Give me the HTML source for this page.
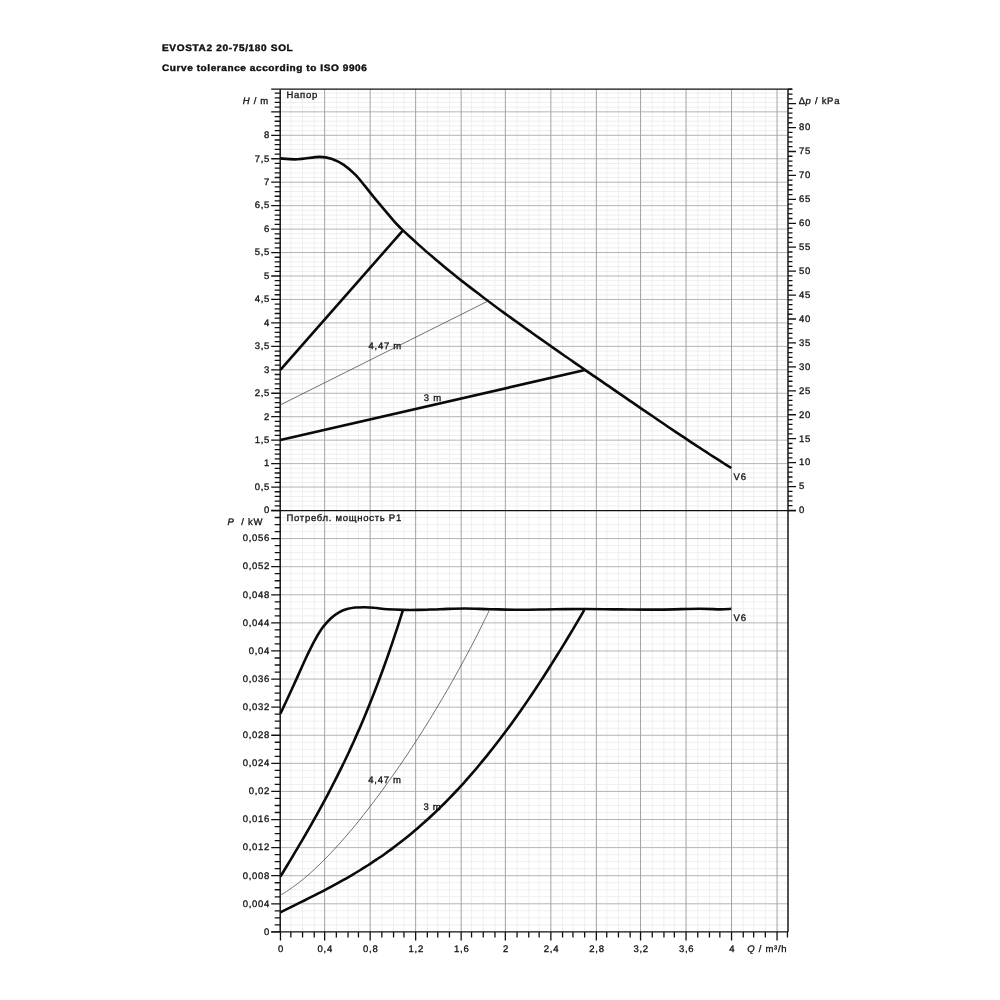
<!DOCTYPE html>
<html><head><meta charset="utf-8"><title>EVOSTA2 20-75/180 SOL</title>
<style>
html,body{margin:0;padding:0;background:#fff;}
body{width:1000px;height:1000px;overflow:hidden;font-family:"Liberation Sans",sans-serif;}
svg{display:block;position:absolute;left:0;top:0}
svg text{font-family:"Liberation Sans",sans-serif;font-size:9.5px;letter-spacing:0.72px;fill:#111;text-rendering:geometricPrecision;}
svg text{stroke:#111;stroke-width:0.3px;paint-order:stroke;}
svg .v{font-style:italic;}
.hd{position:absolute;left:161.5px;font-weight:bold;font-size:9.4px;letter-spacing:0.62px;transform:scaleX(1.07);transform-origin:0 0;color:#111;white-space:nowrap;line-height:12px;text-rendering:geometricPrecision;-webkit-text-stroke:0.4px #111;filter:blur(0.45px);}
</style></head><body>
<div class="hd" id="h1" style="top:42px;">EVOSTA2 20-75/180 SOL</div>
<div class="hd" id="h2" style="top:62.3px;letter-spacing:0.54px;">Curve tolerance according to ISO 9906</div>
<svg width="1000" height="1000" viewBox="0 0 1000 1000" style="filter:blur(0.45px)">
<line x1="290.85" y1="89.2" x2="290.85" y2="510.5" stroke="#efefef" stroke-width="1"/>
<line x1="302.55" y1="89.2" x2="302.55" y2="510.5" stroke="#efefef" stroke-width="1"/>
<line x1="314.25" y1="89.2" x2="314.25" y2="510.5" stroke="#efefef" stroke-width="1"/>
<line x1="336.35" y1="89.2" x2="336.35" y2="510.5" stroke="#efefef" stroke-width="1"/>
<line x1="348.05" y1="89.2" x2="348.05" y2="510.5" stroke="#efefef" stroke-width="1"/>
<line x1="358.45" y1="89.2" x2="358.45" y2="510.5" stroke="#efefef" stroke-width="1"/>
<line x1="381.85" y1="89.2" x2="381.85" y2="510.5" stroke="#efefef" stroke-width="1"/>
<line x1="393.55" y1="89.2" x2="393.55" y2="510.5" stroke="#efefef" stroke-width="1"/>
<line x1="403.95" y1="89.2" x2="403.95" y2="510.5" stroke="#efefef" stroke-width="1"/>
<line x1="427.35" y1="89.2" x2="427.35" y2="510.5" stroke="#efefef" stroke-width="1"/>
<line x1="437.75" y1="89.2" x2="437.75" y2="510.5" stroke="#efefef" stroke-width="1"/>
<line x1="449.45" y1="89.2" x2="449.45" y2="510.5" stroke="#efefef" stroke-width="1"/>
<line x1="471.55" y1="89.2" x2="471.55" y2="510.5" stroke="#efefef" stroke-width="1"/>
<line x1="483.25" y1="89.2" x2="483.25" y2="510.5" stroke="#efefef" stroke-width="1"/>
<line x1="494.95" y1="89.2" x2="494.95" y2="510.5" stroke="#efefef" stroke-width="1"/>
<line x1="517.05" y1="89.2" x2="517.05" y2="510.5" stroke="#efefef" stroke-width="1"/>
<line x1="528.75" y1="89.2" x2="528.75" y2="510.5" stroke="#efefef" stroke-width="1"/>
<line x1="539.15" y1="89.2" x2="539.15" y2="510.5" stroke="#efefef" stroke-width="1"/>
<line x1="562.55" y1="89.2" x2="562.55" y2="510.5" stroke="#efefef" stroke-width="1"/>
<line x1="572.95" y1="89.2" x2="572.95" y2="510.5" stroke="#efefef" stroke-width="1"/>
<line x1="584.65" y1="89.2" x2="584.65" y2="510.5" stroke="#efefef" stroke-width="1"/>
<line x1="606.75" y1="89.2" x2="606.75" y2="510.5" stroke="#efefef" stroke-width="1"/>
<line x1="618.45" y1="89.2" x2="618.45" y2="510.5" stroke="#efefef" stroke-width="1"/>
<line x1="630.15" y1="89.2" x2="630.15" y2="510.5" stroke="#efefef" stroke-width="1"/>
<line x1="652.25" y1="89.2" x2="652.25" y2="510.5" stroke="#efefef" stroke-width="1"/>
<line x1="663.95" y1="89.2" x2="663.95" y2="510.5" stroke="#efefef" stroke-width="1"/>
<line x1="674.35" y1="89.2" x2="674.35" y2="510.5" stroke="#efefef" stroke-width="1"/>
<line x1="697.75" y1="89.2" x2="697.75" y2="510.5" stroke="#efefef" stroke-width="1"/>
<line x1="709.45" y1="89.2" x2="709.45" y2="510.5" stroke="#efefef" stroke-width="1"/>
<line x1="719.85" y1="89.2" x2="719.85" y2="510.5" stroke="#efefef" stroke-width="1"/>
<line x1="743.25" y1="89.2" x2="743.25" y2="510.5" stroke="#efefef" stroke-width="1"/>
<line x1="753.65" y1="89.2" x2="753.65" y2="510.5" stroke="#efefef" stroke-width="1"/>
<line x1="765.35" y1="89.2" x2="765.35" y2="510.5" stroke="#efefef" stroke-width="1"/>
<line x1="280.2" y1="505.81" x2="788.0" y2="505.81" stroke="#efefef" stroke-width="1"/>
<line x1="280.2" y1="501.12" x2="788.0" y2="501.12" stroke="#efefef" stroke-width="1"/>
<line x1="280.2" y1="496.43" x2="788.0" y2="496.43" stroke="#efefef" stroke-width="1"/>
<line x1="280.2" y1="491.74" x2="788.0" y2="491.74" stroke="#efefef" stroke-width="1"/>
<line x1="280.2" y1="482.36" x2="788.0" y2="482.36" stroke="#efefef" stroke-width="1"/>
<line x1="280.2" y1="477.67" x2="788.0" y2="477.67" stroke="#efefef" stroke-width="1"/>
<line x1="280.2" y1="472.98" x2="788.0" y2="472.98" stroke="#efefef" stroke-width="1"/>
<line x1="280.2" y1="468.29" x2="788.0" y2="468.29" stroke="#efefef" stroke-width="1"/>
<line x1="280.2" y1="458.91" x2="788.0" y2="458.91" stroke="#efefef" stroke-width="1"/>
<line x1="280.2" y1="454.22" x2="788.0" y2="454.22" stroke="#efefef" stroke-width="1"/>
<line x1="280.2" y1="449.53" x2="788.0" y2="449.53" stroke="#efefef" stroke-width="1"/>
<line x1="280.2" y1="444.84" x2="788.0" y2="444.84" stroke="#efefef" stroke-width="1"/>
<line x1="280.2" y1="435.46" x2="788.0" y2="435.46" stroke="#efefef" stroke-width="1"/>
<line x1="280.2" y1="430.77" x2="788.0" y2="430.77" stroke="#efefef" stroke-width="1"/>
<line x1="280.2" y1="426.08" x2="788.0" y2="426.08" stroke="#efefef" stroke-width="1"/>
<line x1="280.2" y1="421.39" x2="788.0" y2="421.39" stroke="#efefef" stroke-width="1"/>
<line x1="280.2" y1="412.01" x2="788.0" y2="412.01" stroke="#efefef" stroke-width="1"/>
<line x1="280.2" y1="407.32" x2="788.0" y2="407.32" stroke="#efefef" stroke-width="1"/>
<line x1="280.2" y1="402.63" x2="788.0" y2="402.63" stroke="#efefef" stroke-width="1"/>
<line x1="280.2" y1="397.94" x2="788.0" y2="397.94" stroke="#efefef" stroke-width="1"/>
<line x1="280.2" y1="388.56" x2="788.0" y2="388.56" stroke="#efefef" stroke-width="1"/>
<line x1="280.2" y1="383.87" x2="788.0" y2="383.87" stroke="#efefef" stroke-width="1"/>
<line x1="280.2" y1="379.18" x2="788.0" y2="379.18" stroke="#efefef" stroke-width="1"/>
<line x1="280.2" y1="374.49" x2="788.0" y2="374.49" stroke="#efefef" stroke-width="1"/>
<line x1="280.2" y1="365.11" x2="788.0" y2="365.11" stroke="#efefef" stroke-width="1"/>
<line x1="280.2" y1="360.42" x2="788.0" y2="360.42" stroke="#efefef" stroke-width="1"/>
<line x1="280.2" y1="355.73" x2="788.0" y2="355.73" stroke="#efefef" stroke-width="1"/>
<line x1="280.2" y1="351.04" x2="788.0" y2="351.04" stroke="#efefef" stroke-width="1"/>
<line x1="280.2" y1="341.66" x2="788.0" y2="341.66" stroke="#efefef" stroke-width="1"/>
<line x1="280.2" y1="336.97" x2="788.0" y2="336.97" stroke="#efefef" stroke-width="1"/>
<line x1="280.2" y1="332.28" x2="788.0" y2="332.28" stroke="#efefef" stroke-width="1"/>
<line x1="280.2" y1="327.59" x2="788.0" y2="327.59" stroke="#efefef" stroke-width="1"/>
<line x1="280.2" y1="318.21" x2="788.0" y2="318.21" stroke="#efefef" stroke-width="1"/>
<line x1="280.2" y1="313.52" x2="788.0" y2="313.52" stroke="#efefef" stroke-width="1"/>
<line x1="280.2" y1="308.83" x2="788.0" y2="308.83" stroke="#efefef" stroke-width="1"/>
<line x1="280.2" y1="304.14" x2="788.0" y2="304.14" stroke="#efefef" stroke-width="1"/>
<line x1="280.2" y1="294.76" x2="788.0" y2="294.76" stroke="#efefef" stroke-width="1"/>
<line x1="280.2" y1="290.07" x2="788.0" y2="290.07" stroke="#efefef" stroke-width="1"/>
<line x1="280.2" y1="285.38" x2="788.0" y2="285.38" stroke="#efefef" stroke-width="1"/>
<line x1="280.2" y1="280.69" x2="788.0" y2="280.69" stroke="#efefef" stroke-width="1"/>
<line x1="280.2" y1="271.31" x2="788.0" y2="271.31" stroke="#efefef" stroke-width="1"/>
<line x1="280.2" y1="266.62" x2="788.0" y2="266.62" stroke="#efefef" stroke-width="1"/>
<line x1="280.2" y1="261.93" x2="788.0" y2="261.93" stroke="#efefef" stroke-width="1"/>
<line x1="280.2" y1="257.24" x2="788.0" y2="257.24" stroke="#efefef" stroke-width="1"/>
<line x1="280.2" y1="247.86" x2="788.0" y2="247.86" stroke="#efefef" stroke-width="1"/>
<line x1="280.2" y1="243.17" x2="788.0" y2="243.17" stroke="#efefef" stroke-width="1"/>
<line x1="280.2" y1="238.48" x2="788.0" y2="238.48" stroke="#efefef" stroke-width="1"/>
<line x1="280.2" y1="233.79" x2="788.0" y2="233.79" stroke="#efefef" stroke-width="1"/>
<line x1="280.2" y1="224.41" x2="788.0" y2="224.41" stroke="#efefef" stroke-width="1"/>
<line x1="280.2" y1="219.72" x2="788.0" y2="219.72" stroke="#efefef" stroke-width="1"/>
<line x1="280.2" y1="215.03" x2="788.0" y2="215.03" stroke="#efefef" stroke-width="1"/>
<line x1="280.2" y1="210.34" x2="788.0" y2="210.34" stroke="#efefef" stroke-width="1"/>
<line x1="280.2" y1="200.96" x2="788.0" y2="200.96" stroke="#efefef" stroke-width="1"/>
<line x1="280.2" y1="196.27" x2="788.0" y2="196.27" stroke="#efefef" stroke-width="1"/>
<line x1="280.2" y1="191.58" x2="788.0" y2="191.58" stroke="#efefef" stroke-width="1"/>
<line x1="280.2" y1="186.89" x2="788.0" y2="186.89" stroke="#efefef" stroke-width="1"/>
<line x1="280.2" y1="177.51" x2="788.0" y2="177.51" stroke="#efefef" stroke-width="1"/>
<line x1="280.2" y1="172.82" x2="788.0" y2="172.82" stroke="#efefef" stroke-width="1"/>
<line x1="280.2" y1="168.13" x2="788.0" y2="168.13" stroke="#efefef" stroke-width="1"/>
<line x1="280.2" y1="163.44" x2="788.0" y2="163.44" stroke="#efefef" stroke-width="1"/>
<line x1="280.2" y1="154.06" x2="788.0" y2="154.06" stroke="#efefef" stroke-width="1"/>
<line x1="280.2" y1="149.37" x2="788.0" y2="149.37" stroke="#efefef" stroke-width="1"/>
<line x1="280.2" y1="144.68" x2="788.0" y2="144.68" stroke="#efefef" stroke-width="1"/>
<line x1="280.2" y1="139.99" x2="788.0" y2="139.99" stroke="#efefef" stroke-width="1"/>
<line x1="280.2" y1="130.61" x2="788.0" y2="130.61" stroke="#efefef" stroke-width="1"/>
<line x1="280.2" y1="125.92" x2="788.0" y2="125.92" stroke="#efefef" stroke-width="1"/>
<line x1="280.2" y1="121.23" x2="788.0" y2="121.23" stroke="#efefef" stroke-width="1"/>
<line x1="280.2" y1="116.54" x2="788.0" y2="116.54" stroke="#efefef" stroke-width="1"/>
<line x1="280.2" y1="107.16" x2="788.0" y2="107.16" stroke="#efefef" stroke-width="1"/>
<line x1="280.2" y1="102.47" x2="788.0" y2="102.47" stroke="#efefef" stroke-width="1"/>
<line x1="280.2" y1="97.78" x2="788.0" y2="97.78" stroke="#efefef" stroke-width="1"/>
<line x1="280.2" y1="93.09" x2="788.0" y2="93.09" stroke="#efefef" stroke-width="1"/>
<line x1="280.2" y1="487.05" x2="788.0" y2="487.05" stroke="#b4b4b4" stroke-width="1"/>
<line x1="280.2" y1="463.60" x2="788.0" y2="463.60" stroke="#b4b4b4" stroke-width="1"/>
<line x1="280.2" y1="440.15" x2="788.0" y2="440.15" stroke="#b4b4b4" stroke-width="1"/>
<line x1="280.2" y1="416.70" x2="788.0" y2="416.70" stroke="#b4b4b4" stroke-width="1"/>
<line x1="280.2" y1="393.25" x2="788.0" y2="393.25" stroke="#b4b4b4" stroke-width="1"/>
<line x1="280.2" y1="369.80" x2="788.0" y2="369.80" stroke="#b4b4b4" stroke-width="1"/>
<line x1="280.2" y1="346.35" x2="788.0" y2="346.35" stroke="#b4b4b4" stroke-width="1"/>
<line x1="280.2" y1="322.90" x2="788.0" y2="322.90" stroke="#b4b4b4" stroke-width="1"/>
<line x1="280.2" y1="299.45" x2="788.0" y2="299.45" stroke="#b4b4b4" stroke-width="1"/>
<line x1="280.2" y1="276.00" x2="788.0" y2="276.00" stroke="#b4b4b4" stroke-width="1"/>
<line x1="280.2" y1="252.55" x2="788.0" y2="252.55" stroke="#b4b4b4" stroke-width="1"/>
<line x1="280.2" y1="229.10" x2="788.0" y2="229.10" stroke="#b4b4b4" stroke-width="1"/>
<line x1="280.2" y1="205.65" x2="788.0" y2="205.65" stroke="#b4b4b4" stroke-width="1"/>
<line x1="280.2" y1="182.20" x2="788.0" y2="182.20" stroke="#b4b4b4" stroke-width="1"/>
<line x1="280.2" y1="158.75" x2="788.0" y2="158.75" stroke="#b4b4b4" stroke-width="1"/>
<line x1="280.2" y1="135.30" x2="788.0" y2="135.30" stroke="#b4b4b4" stroke-width="1"/>
<line x1="280.2" y1="111.85" x2="788.0" y2="111.85" stroke="#b4b4b4" stroke-width="1"/>
<line x1="324.65" y1="89.2" x2="324.65" y2="510.5" stroke="#a2a2a2" stroke-width="1"/>
<line x1="370.15" y1="89.2" x2="370.15" y2="510.5" stroke="#a2a2a2" stroke-width="1"/>
<line x1="415.65" y1="89.2" x2="415.65" y2="510.5" stroke="#a2a2a2" stroke-width="1"/>
<line x1="461.15" y1="89.2" x2="461.15" y2="510.5" stroke="#a2a2a2" stroke-width="1"/>
<line x1="505.35" y1="89.2" x2="505.35" y2="510.5" stroke="#a2a2a2" stroke-width="1"/>
<line x1="550.85" y1="89.2" x2="550.85" y2="510.5" stroke="#a2a2a2" stroke-width="1"/>
<line x1="596.35" y1="89.2" x2="596.35" y2="510.5" stroke="#a2a2a2" stroke-width="1"/>
<line x1="640.55" y1="89.2" x2="640.55" y2="510.5" stroke="#a2a2a2" stroke-width="1"/>
<line x1="686.05" y1="89.2" x2="686.05" y2="510.5" stroke="#a2a2a2" stroke-width="1"/>
<line x1="731.55" y1="89.2" x2="731.55" y2="510.5" stroke="#a2a2a2" stroke-width="1"/>
<line x1="777.05" y1="89.2" x2="777.05" y2="510.5" stroke="#a2a2a2" stroke-width="1"/>
<line x1="290.85" y1="510.5" x2="290.85" y2="931.9" stroke="#efefef" stroke-width="1"/>
<line x1="302.55" y1="510.5" x2="302.55" y2="931.9" stroke="#efefef" stroke-width="1"/>
<line x1="314.25" y1="510.5" x2="314.25" y2="931.9" stroke="#efefef" stroke-width="1"/>
<line x1="336.35" y1="510.5" x2="336.35" y2="931.9" stroke="#efefef" stroke-width="1"/>
<line x1="348.05" y1="510.5" x2="348.05" y2="931.9" stroke="#efefef" stroke-width="1"/>
<line x1="358.45" y1="510.5" x2="358.45" y2="931.9" stroke="#efefef" stroke-width="1"/>
<line x1="381.85" y1="510.5" x2="381.85" y2="931.9" stroke="#efefef" stroke-width="1"/>
<line x1="393.55" y1="510.5" x2="393.55" y2="931.9" stroke="#efefef" stroke-width="1"/>
<line x1="403.95" y1="510.5" x2="403.95" y2="931.9" stroke="#efefef" stroke-width="1"/>
<line x1="427.35" y1="510.5" x2="427.35" y2="931.9" stroke="#efefef" stroke-width="1"/>
<line x1="437.75" y1="510.5" x2="437.75" y2="931.9" stroke="#efefef" stroke-width="1"/>
<line x1="449.45" y1="510.5" x2="449.45" y2="931.9" stroke="#efefef" stroke-width="1"/>
<line x1="471.55" y1="510.5" x2="471.55" y2="931.9" stroke="#efefef" stroke-width="1"/>
<line x1="483.25" y1="510.5" x2="483.25" y2="931.9" stroke="#efefef" stroke-width="1"/>
<line x1="494.95" y1="510.5" x2="494.95" y2="931.9" stroke="#efefef" stroke-width="1"/>
<line x1="517.05" y1="510.5" x2="517.05" y2="931.9" stroke="#efefef" stroke-width="1"/>
<line x1="528.75" y1="510.5" x2="528.75" y2="931.9" stroke="#efefef" stroke-width="1"/>
<line x1="539.15" y1="510.5" x2="539.15" y2="931.9" stroke="#efefef" stroke-width="1"/>
<line x1="562.55" y1="510.5" x2="562.55" y2="931.9" stroke="#efefef" stroke-width="1"/>
<line x1="572.95" y1="510.5" x2="572.95" y2="931.9" stroke="#efefef" stroke-width="1"/>
<line x1="584.65" y1="510.5" x2="584.65" y2="931.9" stroke="#efefef" stroke-width="1"/>
<line x1="606.75" y1="510.5" x2="606.75" y2="931.9" stroke="#efefef" stroke-width="1"/>
<line x1="618.45" y1="510.5" x2="618.45" y2="931.9" stroke="#efefef" stroke-width="1"/>
<line x1="630.15" y1="510.5" x2="630.15" y2="931.9" stroke="#efefef" stroke-width="1"/>
<line x1="652.25" y1="510.5" x2="652.25" y2="931.9" stroke="#efefef" stroke-width="1"/>
<line x1="663.95" y1="510.5" x2="663.95" y2="931.9" stroke="#efefef" stroke-width="1"/>
<line x1="674.35" y1="510.5" x2="674.35" y2="931.9" stroke="#efefef" stroke-width="1"/>
<line x1="697.75" y1="510.5" x2="697.75" y2="931.9" stroke="#efefef" stroke-width="1"/>
<line x1="709.45" y1="510.5" x2="709.45" y2="931.9" stroke="#efefef" stroke-width="1"/>
<line x1="719.85" y1="510.5" x2="719.85" y2="931.9" stroke="#efefef" stroke-width="1"/>
<line x1="743.25" y1="510.5" x2="743.25" y2="931.9" stroke="#efefef" stroke-width="1"/>
<line x1="753.65" y1="510.5" x2="753.65" y2="931.9" stroke="#efefef" stroke-width="1"/>
<line x1="765.35" y1="510.5" x2="765.35" y2="931.9" stroke="#efefef" stroke-width="1"/>
<line x1="280.2" y1="924.88" x2="788.0" y2="924.88" stroke="#efefef" stroke-width="1"/>
<line x1="280.2" y1="917.85" x2="788.0" y2="917.85" stroke="#efefef" stroke-width="1"/>
<line x1="280.2" y1="910.83" x2="788.0" y2="910.83" stroke="#efefef" stroke-width="1"/>
<line x1="280.2" y1="896.78" x2="788.0" y2="896.78" stroke="#efefef" stroke-width="1"/>
<line x1="280.2" y1="889.76" x2="788.0" y2="889.76" stroke="#efefef" stroke-width="1"/>
<line x1="280.2" y1="882.74" x2="788.0" y2="882.74" stroke="#efefef" stroke-width="1"/>
<line x1="280.2" y1="868.69" x2="788.0" y2="868.69" stroke="#efefef" stroke-width="1"/>
<line x1="280.2" y1="861.67" x2="788.0" y2="861.67" stroke="#efefef" stroke-width="1"/>
<line x1="280.2" y1="854.64" x2="788.0" y2="854.64" stroke="#efefef" stroke-width="1"/>
<line x1="280.2" y1="840.60" x2="788.0" y2="840.60" stroke="#efefef" stroke-width="1"/>
<line x1="280.2" y1="833.57" x2="788.0" y2="833.57" stroke="#efefef" stroke-width="1"/>
<line x1="280.2" y1="826.55" x2="788.0" y2="826.55" stroke="#efefef" stroke-width="1"/>
<line x1="280.2" y1="812.50" x2="788.0" y2="812.50" stroke="#efefef" stroke-width="1"/>
<line x1="280.2" y1="805.48" x2="788.0" y2="805.48" stroke="#efefef" stroke-width="1"/>
<line x1="280.2" y1="798.46" x2="788.0" y2="798.46" stroke="#efefef" stroke-width="1"/>
<line x1="280.2" y1="784.41" x2="788.0" y2="784.41" stroke="#efefef" stroke-width="1"/>
<line x1="280.2" y1="777.39" x2="788.0" y2="777.39" stroke="#efefef" stroke-width="1"/>
<line x1="280.2" y1="770.36" x2="788.0" y2="770.36" stroke="#efefef" stroke-width="1"/>
<line x1="280.2" y1="756.32" x2="788.0" y2="756.32" stroke="#efefef" stroke-width="1"/>
<line x1="280.2" y1="749.29" x2="788.0" y2="749.29" stroke="#efefef" stroke-width="1"/>
<line x1="280.2" y1="742.27" x2="788.0" y2="742.27" stroke="#efefef" stroke-width="1"/>
<line x1="280.2" y1="728.22" x2="788.0" y2="728.22" stroke="#efefef" stroke-width="1"/>
<line x1="280.2" y1="721.20" x2="788.0" y2="721.20" stroke="#efefef" stroke-width="1"/>
<line x1="280.2" y1="714.18" x2="788.0" y2="714.18" stroke="#efefef" stroke-width="1"/>
<line x1="280.2" y1="700.13" x2="788.0" y2="700.13" stroke="#efefef" stroke-width="1"/>
<line x1="280.2" y1="693.11" x2="788.0" y2="693.11" stroke="#efefef" stroke-width="1"/>
<line x1="280.2" y1="686.08" x2="788.0" y2="686.08" stroke="#efefef" stroke-width="1"/>
<line x1="280.2" y1="672.04" x2="788.0" y2="672.04" stroke="#efefef" stroke-width="1"/>
<line x1="280.2" y1="665.01" x2="788.0" y2="665.01" stroke="#efefef" stroke-width="1"/>
<line x1="280.2" y1="657.99" x2="788.0" y2="657.99" stroke="#efefef" stroke-width="1"/>
<line x1="280.2" y1="643.94" x2="788.0" y2="643.94" stroke="#efefef" stroke-width="1"/>
<line x1="280.2" y1="636.92" x2="788.0" y2="636.92" stroke="#efefef" stroke-width="1"/>
<line x1="280.2" y1="629.90" x2="788.0" y2="629.90" stroke="#efefef" stroke-width="1"/>
<line x1="280.2" y1="615.85" x2="788.0" y2="615.85" stroke="#efefef" stroke-width="1"/>
<line x1="280.2" y1="608.83" x2="788.0" y2="608.83" stroke="#efefef" stroke-width="1"/>
<line x1="280.2" y1="601.80" x2="788.0" y2="601.80" stroke="#efefef" stroke-width="1"/>
<line x1="280.2" y1="587.76" x2="788.0" y2="587.76" stroke="#efefef" stroke-width="1"/>
<line x1="280.2" y1="580.73" x2="788.0" y2="580.73" stroke="#efefef" stroke-width="1"/>
<line x1="280.2" y1="573.71" x2="788.0" y2="573.71" stroke="#efefef" stroke-width="1"/>
<line x1="280.2" y1="559.66" x2="788.0" y2="559.66" stroke="#efefef" stroke-width="1"/>
<line x1="280.2" y1="552.64" x2="788.0" y2="552.64" stroke="#efefef" stroke-width="1"/>
<line x1="280.2" y1="545.62" x2="788.0" y2="545.62" stroke="#efefef" stroke-width="1"/>
<line x1="280.2" y1="531.57" x2="788.0" y2="531.57" stroke="#efefef" stroke-width="1"/>
<line x1="280.2" y1="524.55" x2="788.0" y2="524.55" stroke="#efefef" stroke-width="1"/>
<line x1="280.2" y1="517.52" x2="788.0" y2="517.52" stroke="#efefef" stroke-width="1"/>
<line x1="280.2" y1="903.81" x2="788.0" y2="903.81" stroke="#b4b4b4" stroke-width="1"/>
<line x1="280.2" y1="875.71" x2="788.0" y2="875.71" stroke="#b4b4b4" stroke-width="1"/>
<line x1="280.2" y1="847.62" x2="788.0" y2="847.62" stroke="#b4b4b4" stroke-width="1"/>
<line x1="280.2" y1="819.53" x2="788.0" y2="819.53" stroke="#b4b4b4" stroke-width="1"/>
<line x1="280.2" y1="791.43" x2="788.0" y2="791.43" stroke="#b4b4b4" stroke-width="1"/>
<line x1="280.2" y1="763.34" x2="788.0" y2="763.34" stroke="#b4b4b4" stroke-width="1"/>
<line x1="280.2" y1="735.25" x2="788.0" y2="735.25" stroke="#b4b4b4" stroke-width="1"/>
<line x1="280.2" y1="707.15" x2="788.0" y2="707.15" stroke="#b4b4b4" stroke-width="1"/>
<line x1="280.2" y1="679.06" x2="788.0" y2="679.06" stroke="#b4b4b4" stroke-width="1"/>
<line x1="280.2" y1="650.97" x2="788.0" y2="650.97" stroke="#b4b4b4" stroke-width="1"/>
<line x1="280.2" y1="622.87" x2="788.0" y2="622.87" stroke="#b4b4b4" stroke-width="1"/>
<line x1="280.2" y1="594.78" x2="788.0" y2="594.78" stroke="#b4b4b4" stroke-width="1"/>
<line x1="280.2" y1="566.69" x2="788.0" y2="566.69" stroke="#b4b4b4" stroke-width="1"/>
<line x1="280.2" y1="538.59" x2="788.0" y2="538.59" stroke="#b4b4b4" stroke-width="1"/>
<line x1="324.65" y1="510.5" x2="324.65" y2="931.9" stroke="#a2a2a2" stroke-width="1"/>
<line x1="370.15" y1="510.5" x2="370.15" y2="931.9" stroke="#a2a2a2" stroke-width="1"/>
<line x1="415.65" y1="510.5" x2="415.65" y2="931.9" stroke="#a2a2a2" stroke-width="1"/>
<line x1="461.15" y1="510.5" x2="461.15" y2="931.9" stroke="#a2a2a2" stroke-width="1"/>
<line x1="505.35" y1="510.5" x2="505.35" y2="931.9" stroke="#a2a2a2" stroke-width="1"/>
<line x1="550.85" y1="510.5" x2="550.85" y2="931.9" stroke="#a2a2a2" stroke-width="1"/>
<line x1="596.35" y1="510.5" x2="596.35" y2="931.9" stroke="#a2a2a2" stroke-width="1"/>
<line x1="640.55" y1="510.5" x2="640.55" y2="931.9" stroke="#a2a2a2" stroke-width="1"/>
<line x1="686.05" y1="510.5" x2="686.05" y2="931.9" stroke="#a2a2a2" stroke-width="1"/>
<line x1="731.55" y1="510.5" x2="731.55" y2="931.9" stroke="#a2a2a2" stroke-width="1"/>
<line x1="777.05" y1="510.5" x2="777.05" y2="931.9" stroke="#a2a2a2" stroke-width="1"/>
<path d="M280.2,89.2 V931.9 M788.0,89.2 V931.9" stroke="#111" stroke-width="1.45" fill="none"/>
<path d="M271.2,89.2 H792.0 M271.2,510.5 H796.0 M271.2,931.9 H788.0" stroke="#111" stroke-width="1.25" fill="none"/>
<path d="M271.20,510.50H280.2 M274.70,505.81H280.2 M274.70,501.12H280.2 M274.70,496.43H280.2 M274.70,491.74H280.2 M271.20,487.05H280.2 M274.70,482.36H280.2 M274.70,477.67H280.2 M274.70,472.98H280.2 M274.70,468.29H280.2 M271.20,463.60H280.2 M274.70,458.91H280.2 M274.70,454.22H280.2 M274.70,449.53H280.2 M274.70,444.84H280.2 M271.20,440.15H280.2 M274.70,435.46H280.2 M274.70,430.77H280.2 M274.70,426.08H280.2 M274.70,421.39H280.2 M271.20,416.70H280.2 M274.70,412.01H280.2 M274.70,407.32H280.2 M274.70,402.63H280.2 M274.70,397.94H280.2 M271.20,393.25H280.2 M274.70,388.56H280.2 M274.70,383.87H280.2 M274.70,379.18H280.2 M274.70,374.49H280.2 M271.20,369.80H280.2 M274.70,365.11H280.2 M274.70,360.42H280.2 M274.70,355.73H280.2 M274.70,351.04H280.2 M271.20,346.35H280.2 M274.70,341.66H280.2 M274.70,336.97H280.2 M274.70,332.28H280.2 M274.70,327.59H280.2 M271.20,322.90H280.2 M274.70,318.21H280.2 M274.70,313.52H280.2 M274.70,308.83H280.2 M274.70,304.14H280.2 M271.20,299.45H280.2 M274.70,294.76H280.2 M274.70,290.07H280.2 M274.70,285.38H280.2 M274.70,280.69H280.2 M271.20,276.00H280.2 M274.70,271.31H280.2 M274.70,266.62H280.2 M274.70,261.93H280.2 M274.70,257.24H280.2 M271.20,252.55H280.2 M274.70,247.86H280.2 M274.70,243.17H280.2 M274.70,238.48H280.2 M274.70,233.79H280.2 M271.20,229.10H280.2 M274.70,224.41H280.2 M274.70,219.72H280.2 M274.70,215.03H280.2 M274.70,210.34H280.2 M271.20,205.65H280.2 M274.70,200.96H280.2 M274.70,196.27H280.2 M274.70,191.58H280.2 M274.70,186.89H280.2 M271.20,182.20H280.2 M274.70,177.51H280.2 M274.70,172.82H280.2 M274.70,168.13H280.2 M274.70,163.44H280.2 M271.20,158.75H280.2 M274.70,154.06H280.2 M274.70,149.37H280.2 M274.70,144.68H280.2 M274.70,139.99H280.2 M271.20,135.30H280.2 M274.70,130.61H280.2 M274.70,125.92H280.2 M274.70,121.23H280.2 M274.70,116.54H280.2 M271.20,111.85H280.2 M274.70,107.16H280.2 M274.70,102.47H280.2 M274.70,97.78H280.2 M274.70,93.09H280.2 M788.0,510.50h8 M788.0,505.71h4.5 M788.0,500.93h4.5 M788.0,496.14h4.5 M788.0,491.35h4.5 M788.0,486.56h8 M788.0,481.78h4.5 M788.0,476.99h4.5 M788.0,472.20h4.5 M788.0,467.42h4.5 M788.0,462.63h8 M788.0,457.84h4.5 M788.0,453.06h4.5 M788.0,448.27h4.5 M788.0,443.48h4.5 M788.0,438.69h8 M788.0,433.91h4.5 M788.0,429.12h4.5 M788.0,424.33h4.5 M788.0,419.55h4.5 M788.0,414.76h8 M788.0,409.97h4.5 M788.0,405.19h4.5 M788.0,400.40h4.5 M788.0,395.61h4.5 M788.0,390.82h8 M788.0,386.04h4.5 M788.0,381.25h4.5 M788.0,376.46h4.5 M788.0,371.68h4.5 M788.0,366.89h8 M788.0,362.10h4.5 M788.0,357.32h4.5 M788.0,352.53h4.5 M788.0,347.74h4.5 M788.0,342.96h8 M788.0,338.17h4.5 M788.0,333.38h4.5 M788.0,328.59h4.5 M788.0,323.81h4.5 M788.0,319.02h8 M788.0,314.23h4.5 M788.0,309.45h4.5 M788.0,304.66h4.5 M788.0,299.87h4.5 M788.0,295.09h8 M788.0,290.30h4.5 M788.0,285.51h4.5 M788.0,280.72h4.5 M788.0,275.94h4.5 M788.0,271.15h8 M788.0,266.36h4.5 M788.0,261.58h4.5 M788.0,256.79h4.5 M788.0,252.00h4.5 M788.0,247.22h8 M788.0,242.43h4.5 M788.0,237.64h4.5 M788.0,232.85h4.5 M788.0,228.07h4.5 M788.0,223.28h8 M788.0,218.49h4.5 M788.0,213.71h4.5 M788.0,208.92h4.5 M788.0,204.13h4.5 M788.0,199.35h8 M788.0,194.56h4.5 M788.0,189.77h4.5 M788.0,184.98h4.5 M788.0,180.20h4.5 M788.0,175.41h8 M788.0,170.62h4.5 M788.0,165.84h4.5 M788.0,161.05h4.5 M788.0,156.26h4.5 M788.0,151.48h8 M788.0,146.69h4.5 M788.0,141.90h4.5 M788.0,137.11h4.5 M788.0,132.33h4.5 M788.0,127.54h8 M788.0,122.75h4.5 M788.0,117.97h4.5 M788.0,113.18h4.5 M788.0,108.39h4.5 M788.0,103.61h8 M788.0,98.82h4.5 M788.0,94.03h4.5 M788.0,89.24h4.5 M271.20,931.90H280.2 M274.70,924.88H280.2 M274.70,917.85H280.2 M274.70,910.83H280.2 M271.20,903.81H280.2 M274.70,896.78H280.2 M274.70,889.76H280.2 M274.70,882.74H280.2 M271.20,875.71H280.2 M274.70,868.69H280.2 M274.70,861.67H280.2 M274.70,854.64H280.2 M271.20,847.62H280.2 M274.70,840.60H280.2 M274.70,833.57H280.2 M274.70,826.55H280.2 M271.20,819.53H280.2 M274.70,812.50H280.2 M274.70,805.48H280.2 M274.70,798.46H280.2 M271.20,791.43H280.2 M274.70,784.41H280.2 M274.70,777.39H280.2 M274.70,770.36H280.2 M271.20,763.34H280.2 M274.70,756.32H280.2 M274.70,749.29H280.2 M274.70,742.27H280.2 M271.20,735.25H280.2 M274.70,728.22H280.2 M274.70,721.20H280.2 M274.70,714.18H280.2 M271.20,707.15H280.2 M274.70,700.13H280.2 M274.70,693.11H280.2 M274.70,686.08H280.2 M271.20,679.06H280.2 M274.70,672.04H280.2 M274.70,665.01H280.2 M274.70,657.99H280.2 M271.20,650.97H280.2 M274.70,643.94H280.2 M274.70,636.92H280.2 M274.70,629.90H280.2 M271.20,622.87H280.2 M274.70,615.85H280.2 M274.70,608.83H280.2 M274.70,601.80H280.2 M271.20,594.78H280.2 M274.70,587.76H280.2 M274.70,580.73H280.2 M274.70,573.71H280.2 M271.20,566.69H280.2 M274.70,559.66H280.2 M274.70,552.64H280.2 M274.70,545.62H280.2 M271.20,538.59H280.2 M274.70,531.57H280.2 M274.70,524.55H280.2 M274.70,517.52H280.2 M280.45,931.9v8.5 M290.85,931.9v5.5 M302.55,931.9v5.5 M314.25,931.9v5.5 M324.65,931.9v8.5 M336.35,931.9v5.5 M348.05,931.9v5.5 M358.45,931.9v5.5 M370.15,931.9v8.5 M381.85,931.9v5.5 M393.55,931.9v5.5 M403.95,931.9v5.5 M415.65,931.9v8.5 M427.35,931.9v5.5 M437.75,931.9v5.5 M449.45,931.9v5.5 M461.15,931.9v8.5 M471.55,931.9v5.5 M483.25,931.9v5.5 M494.95,931.9v5.5 M505.35,931.9v8.5 M517.05,931.9v5.5 M528.75,931.9v5.5 M539.15,931.9v5.5 M550.85,931.9v8.5 M562.55,931.9v5.5 M572.95,931.9v5.5 M584.65,931.9v5.5 M596.35,931.9v8.5 M606.75,931.9v5.5 M618.45,931.9v5.5 M630.15,931.9v5.5 M640.55,931.9v8.5 M652.25,931.9v5.5 M663.95,931.9v5.5 M674.35,931.9v5.5 M686.05,931.9v8.5 M697.75,931.9v5.5 M709.45,931.9v5.5 M719.85,931.9v5.5 M731.55,931.9v8.5 M743.25,931.9v5.5 M753.65,931.9v5.5 M765.35,931.9v5.5 M777.05,931.9v8.5 M787.45,931.9v5.5" stroke="#111" stroke-width="1.3" fill="none"/>
<text transform="translate(270.0,489.85) scale(1.0,1)" text-anchor="end" >0,5</text>
<text transform="translate(270.0,466.4) scale(1.0,1)" text-anchor="end" >1</text>
<text transform="translate(270.0,442.95) scale(1.0,1)" text-anchor="end" >1,5</text>
<text transform="translate(270.0,419.5) scale(1.0,1)" text-anchor="end" >2</text>
<text transform="translate(270.0,396.05) scale(1.0,1)" text-anchor="end" >2,5</text>
<text transform="translate(270.0,372.6) scale(1.0,1)" text-anchor="end" >3</text>
<text transform="translate(270.0,349.15) scale(1.0,1)" text-anchor="end" >3,5</text>
<text transform="translate(270.0,325.7) scale(1.0,1)" text-anchor="end" >4</text>
<text transform="translate(270.0,302.25) scale(1.0,1)" text-anchor="end" >4,5</text>
<text transform="translate(270.0,278.8) scale(1.0,1)" text-anchor="end" >5</text>
<text transform="translate(270.0,255.35) scale(1.0,1)" text-anchor="end" >5,5</text>
<text transform="translate(270.0,231.9) scale(1.0,1)" text-anchor="end" >6</text>
<text transform="translate(270.0,208.45) scale(1.0,1)" text-anchor="end" >6,5</text>
<text transform="translate(270.0,185.0) scale(1.0,1)" text-anchor="end" >7</text>
<text transform="translate(270.0,161.55) scale(1.0,1)" text-anchor="end" >7,5</text>
<text transform="translate(270.0,138.1) scale(1.0,1)" text-anchor="end" >8</text>
<text transform="translate(270.0,513.3) scale(1.0,1)" text-anchor="end" >0</text>
<text transform="translate(799.0,513.3) scale(1.0,1)" text-anchor="start" >0</text>
<text transform="translate(799.0,489.37) scale(1.0,1)" text-anchor="start" >5</text>
<text transform="translate(799.0,465.43) scale(1.0,1)" text-anchor="start" >10</text>
<text transform="translate(799.0,441.5) scale(1.0,1)" text-anchor="start" >15</text>
<text transform="translate(799.0,417.56) scale(1.0,1)" text-anchor="start" >20</text>
<text transform="translate(799.0,393.62) scale(1.0,1)" text-anchor="start" >25</text>
<text transform="translate(799.0,369.69) scale(1.0,1)" text-anchor="start" >30</text>
<text transform="translate(799.0,345.76) scale(1.0,1)" text-anchor="start" >35</text>
<text transform="translate(799.0,321.82) scale(1.0,1)" text-anchor="start" >40</text>
<text transform="translate(799.0,297.89) scale(1.0,1)" text-anchor="start" >45</text>
<text transform="translate(799.0,273.95) scale(1.0,1)" text-anchor="start" >50</text>
<text transform="translate(799.0,250.02) scale(1.0,1)" text-anchor="start" >55</text>
<text transform="translate(799.0,226.08) scale(1.0,1)" text-anchor="start" >60</text>
<text transform="translate(799.0,202.15) scale(1.0,1)" text-anchor="start" >65</text>
<text transform="translate(799.0,178.21) scale(1.0,1)" text-anchor="start" >70</text>
<text transform="translate(799.0,154.28) scale(1.0,1)" text-anchor="start" >75</text>
<text transform="translate(799.0,130.34) scale(1.0,1)" text-anchor="start" >80</text>
<text transform="translate(270.0,906.61) scale(1.0,1)" text-anchor="end" >0,004</text>
<text transform="translate(270.0,878.51) scale(1.0,1)" text-anchor="end" >0,008</text>
<text transform="translate(270.0,850.42) scale(1.0,1)" text-anchor="end" >0,012</text>
<text transform="translate(270.0,822.33) scale(1.0,1)" text-anchor="end" >0,016</text>
<text transform="translate(270.0,794.23) scale(1.0,1)" text-anchor="end" >0,02</text>
<text transform="translate(270.0,766.14) scale(1.0,1)" text-anchor="end" >0,024</text>
<text transform="translate(270.0,738.05) scale(1.0,1)" text-anchor="end" >0,028</text>
<text transform="translate(270.0,709.95) scale(1.0,1)" text-anchor="end" >0,032</text>
<text transform="translate(270.0,681.86) scale(1.0,1)" text-anchor="end" >0,036</text>
<text transform="translate(270.0,653.77) scale(1.0,1)" text-anchor="end" >0,04</text>
<text transform="translate(270.0,625.67) scale(1.0,1)" text-anchor="end" >0,044</text>
<text transform="translate(270.0,597.58) scale(1.0,1)" text-anchor="end" >0,048</text>
<text transform="translate(270.0,569.49) scale(1.0,1)" text-anchor="end" >0,052</text>
<text transform="translate(270.0,541.39) scale(1.0,1)" text-anchor="end" >0,056</text>
<text transform="translate(270.0,934.7) scale(1.0,1)" text-anchor="end" >0</text>
<text transform="translate(281.05,952.2) scale(1.0,1)" text-anchor="middle" >0</text>
<text transform="translate(325.25,952.2) scale(1.0,1)" text-anchor="middle" >0,4</text>
<text transform="translate(370.75,952.2) scale(1.0,1)" text-anchor="middle" >0,8</text>
<text transform="translate(416.25,952.2) scale(1.0,1)" text-anchor="middle" >1,2</text>
<text transform="translate(461.75,952.2) scale(1.0,1)" text-anchor="middle" >1,6</text>
<text transform="translate(505.95,952.2) scale(1.0,1)" text-anchor="middle" >2</text>
<text transform="translate(551.45,952.2) scale(1.0,1)" text-anchor="middle" >2,4</text>
<text transform="translate(596.95,952.2) scale(1.0,1)" text-anchor="middle" >2,8</text>
<text transform="translate(641.15,952.2) scale(1.0,1)" text-anchor="middle" >3,2</text>
<text transform="translate(686.65,952.2) scale(1.0,1)" text-anchor="middle" >3,6</text>
<text transform="translate(732.15,952.2) scale(1.0,1)" text-anchor="middle" >4</text>
<text transform="translate(767.3,952.2) scale(1.0,1)" text-anchor="middle" ><tspan class="v">Q</tspan> / m³/h</text>
<text transform="translate(269,104) scale(1.0,1)" text-anchor="end" ><tspan class="v">H</tspan> / m</text>
<text transform="translate(799.0,103.9) scale(1.0,1)" text-anchor="start" >∆<tspan class="v">p</tspan> / kPa</text>
<text transform="translate(263.2,525.4) scale(1.0,1)" text-anchor="end" ><tspan class="v">P</tspan>&#160; / kW</text>
<text transform="translate(286.5,97.9) scale(1.0,1)" text-anchor="start" >Напор</text>
<text transform="translate(286.5,521) scale(1.0,1)" text-anchor="start" >Потребл. мощность P1</text>
<text transform="translate(368.6,349.2) scale(1.0,1)" text-anchor="start" >4,47 m</text>
<text transform="translate(423.8,400.6) scale(1.0,1)" text-anchor="start" >3 m</text>
<text transform="translate(733.6,479.7) scale(1.0,1)" text-anchor="start" >V6</text>
<text transform="translate(733.6,621.1) scale(1.0,1)" text-anchor="start" >V6</text>
<text transform="translate(368.3,782.6) scale(1.0,1)" text-anchor="start" >4,47 m</text>
<text transform="translate(423.5,810) scale(1.0,1)" text-anchor="start" >3 m</text>
<g fill="none" stroke="#0a0a0a" stroke-linejoin="round" stroke-linecap="butt">
<path d="M280.4,158.4 C283.2,158.6 290.8,159.6 297.4,159.3 C304.0,159.1 313.9,156.9 319.8,156.9 C325.7,156.9 328.6,157.9 332.6,159.2 C336.6,160.5 340.1,162.3 343.8,164.8 C347.5,167.3 351.5,170.9 355.0,174.4 C358.5,177.9 361.4,181.7 364.6,185.6 C367.8,189.5 370.5,193.1 374.2,197.6 C377.9,202.1 383.3,208.4 387.0,212.8 C390.7,217.2 393.9,221.1 396.6,224.0 C399.3,226.9 400.6,228.1 403.0,230.4 C405.4,232.7 408.3,235.4 411.0,237.8 C413.7,240.3 416.3,242.7 419.0,245.1 C421.7,247.5 424.4,249.8 427.0,252.1 C429.7,254.4 432.4,256.7 435.0,259.0 C437.7,261.2 440.4,263.5 443.0,265.7 C445.7,267.9 448.4,270.1 451.0,272.2 C453.7,274.4 456.4,276.5 459.1,278.7 C461.7,280.8 464.4,282.9 467.1,285.0 C469.7,287.0 472.4,289.1 475.1,291.1 C477.7,293.2 480.4,295.2 483.1,297.2 C485.7,299.2 488.4,301.2 491.1,303.2 C493.7,305.2 496.4,307.2 499.1,309.2 C501.8,311.1 504.4,313.1 507.1,315.0 C509.8,316.9 512.4,318.9 515.1,320.8 C517.8,322.7 520.4,324.6 523.1,326.5 C525.8,328.5 528.4,330.3 531.1,332.2 C533.8,334.1 536.5,336.0 539.1,337.9 C541.8,339.8 544.5,341.7 547.1,343.5 C549.8,345.4 552.5,347.3 555.1,349.1 C557.8,351.0 560.5,352.9 563.1,354.7 C565.8,356.6 568.5,358.4 571.2,360.3 C573.8,362.1 576.5,364.0 579.2,365.8 C581.8,367.7 584.5,369.5 587.2,371.4 C589.8,373.2 592.5,375.0 595.2,376.9 C597.8,378.7 600.5,380.6 603.2,382.4 C605.9,384.2 608.5,386.1 611.2,387.9 C613.9,389.8 616.5,391.6 619.2,393.4 C621.9,395.3 624.5,397.1 627.2,398.9 C629.9,400.7 632.5,402.6 635.2,404.4 C637.9,406.2 640.6,408.1 643.2,409.9 C645.9,411.7 648.6,413.5 651.2,415.3 C653.9,417.1 656.6,419.0 659.2,420.8 C661.9,422.6 664.6,424.4 667.2,426.2 C669.9,428.0 672.6,429.8 675.2,431.6 C677.9,433.4 680.6,435.2 683.3,436.9 C685.9,438.7 688.6,440.5 691.3,442.3 C693.9,444.0 696.6,445.8 699.3,447.5 C701.9,449.3 704.6,451.0 707.3,452.7 C709.9,454.5 712.6,456.2 715.3,457.9 C718.0,459.6 720.6,461.3 723.3,463.0 C726.0,464.7 730.0,467.2 731.3,468.0" stroke-width="2.6"/>
<path d="M280.4,369.8 L403,230.4" stroke-width="2.6"/>
<path d="M280.4,440.1 L585,370" stroke-width="2.6"/>
<path d="M280.4,404.9 L487.5,301.3" stroke-width="0.75" stroke="#444"/>
<path d="M280.4,713.8 C282.2,710.0 287.9,697.7 291.0,691.0 C294.1,684.3 296.3,679.3 299.0,673.4 C301.7,667.5 304.3,661.4 307.0,655.8 C309.7,650.2 312.3,644.6 315.0,639.8 C317.7,635.0 320.3,630.6 323.0,627.0 C325.7,623.4 328.3,620.7 331.0,618.2 C333.7,615.8 336.3,613.8 339.0,612.3 C341.7,610.8 344.3,609.9 347.0,609.1 C349.7,608.3 352.1,607.8 355.0,607.5 C357.9,607.2 361.4,607.2 364.6,607.2 C367.8,607.2 370.5,607.4 374.2,607.8 C377.9,608.1 382.2,608.9 387.0,609.3 C391.8,609.6 397.7,609.8 403.0,609.9 C408.3,610.0 412.8,610.0 419.0,609.9 C425.2,609.8 432.3,609.4 440.0,609.2 C447.7,609.0 456.7,608.5 465.0,608.5 C473.3,608.5 480.8,609.0 490.0,609.2 C499.2,609.4 509.2,609.8 520.0,609.8 C530.8,609.8 544.2,609.4 555.0,609.3 C565.8,609.2 574.2,609.0 585.0,609.0 C595.8,609.0 607.5,609.3 620.0,609.4 C632.5,609.5 646.7,609.7 660.0,609.6 C673.3,609.5 690.0,608.7 700.0,608.7 C710.0,608.7 714.8,609.4 720.0,609.4 C725.2,609.4 729.4,608.9 731.3,608.8" stroke-width="2.6"/>
<path d="M280.4,876.6 C281.2,875.3 283.7,871.2 285.3,868.5 C286.9,865.8 288.6,863.1 290.2,860.4 C291.8,857.7 293.5,854.9 295.1,852.2 C296.7,849.4 298.4,846.7 300.0,843.9 C301.7,841.2 303.3,838.4 304.9,835.6 C306.6,832.7 308.2,829.9 309.8,827.1 C311.5,824.2 313.1,821.3 314.7,818.4 C316.4,815.5 318.0,812.6 319.6,809.6 C321.3,806.6 322.9,803.6 324.5,800.6 C326.2,797.5 327.8,794.5 329.4,791.3 C331.1,788.2 332.7,785.1 334.3,781.8 C336.0,778.6 337.6,775.4 339.2,772.1 C340.9,768.8 342.5,765.4 344.2,762.0 C345.8,758.6 347.4,755.2 349.1,751.7 C350.7,748.2 352.3,744.6 354.0,741.0 C355.6,737.3 357.2,733.6 358.9,729.9 C360.5,726.1 362.1,722.3 363.8,718.4 C365.4,714.5 367.0,710.6 368.7,706.6 C370.3,702.5 371.9,698.4 373.6,694.2 C375.2,690.1 376.8,685.8 378.5,681.5 C380.1,677.1 381.7,672.7 383.4,668.2 C385.0,663.7 386.7,659.1 388.3,654.5 C389.9,649.8 391.6,645.0 393.2,640.2 C394.8,635.3 396.5,630.4 398.1,625.3 C399.7,620.3 402.2,612.5 403.0,609.9" stroke-width="2.6"/>
<path d="M280.4,912.4 C281.7,911.7 285.7,909.7 288.4,908.4 C291.1,907.1 293.7,905.8 296.4,904.4 C299.1,903.1 301.7,901.8 304.4,900.5 C307.1,899.1 309.7,897.8 312.4,896.4 C315.1,895.1 317.7,893.7 320.4,892.4 C323.1,891.0 325.7,889.6 328.4,888.2 C331.0,886.8 333.7,885.3 336.4,883.9 C339.0,882.4 341.7,880.9 344.4,879.4 C347.0,877.9 349.7,876.4 352.4,874.8 C355.0,873.2 357.7,871.6 360.4,870.0 C363.0,868.3 365.7,866.7 368.4,865.0 C371.0,863.2 373.7,861.5 376.4,859.7 C379.0,857.9 381.7,856.1 384.4,854.2 C387.0,852.3 389.7,850.4 392.4,848.4 C395.0,846.4 397.7,844.4 400.4,842.3 C403.0,840.3 405.7,838.2 408.4,836.0 C411.0,833.8 413.7,831.6 416.4,829.3 C419.0,827.0 421.7,824.7 424.4,822.3 C427.0,819.9 429.7,817.5 432.3,815.0 C435.0,812.5 437.7,810.0 440.3,807.3 C443.0,804.7 445.7,802.1 448.3,799.3 C451.0,796.6 453.7,793.8 456.3,791.0 C459.0,788.1 461.7,785.2 464.3,782.3 C467.0,779.3 469.7,776.3 472.3,773.2 C475.0,770.1 477.7,767.0 480.3,763.7 C483.0,760.5 485.7,757.3 488.3,753.9 C491.0,750.6 493.7,747.2 496.3,743.8 C499.0,740.3 501.7,736.8 504.3,733.3 C507.0,729.7 509.7,726.1 512.3,722.4 C515.0,718.7 517.7,715.0 520.3,711.2 C523.0,707.4 525.7,703.5 528.3,699.6 C531.0,695.7 533.6,691.7 536.3,687.7 C539.0,683.7 541.6,679.6 544.3,675.5 C547.0,671.4 549.6,667.2 552.3,662.9 C555.0,658.7 557.6,654.4 560.3,650.1 C563.0,645.8 565.6,641.4 568.3,637.0 C571.0,632.5 573.6,628.1 576.3,623.6 C579.0,619.1 583.0,612.2 584.3,609.9" stroke-width="2.6"/>
<path d="M280.4,895.2 C281.4,894.6 284.4,892.8 286.4,891.6 C288.4,890.3 290.4,888.9 292.3,887.5 C294.3,886.1 296.3,884.6 298.3,883.1 C300.3,881.5 302.3,879.9 304.3,878.3 C306.3,876.6 308.3,874.9 310.3,873.1 C312.3,871.4 314.3,869.5 316.2,867.7 C318.2,865.8 320.2,863.9 322.2,861.9 C324.2,859.9 326.2,857.9 328.2,855.8 C330.2,853.8 332.2,851.7 334.2,849.5 C336.2,847.3 338.2,845.2 340.1,842.9 C342.1,840.7 344.1,838.4 346.1,836.1 C348.1,833.8 350.1,831.4 352.1,829.0 C354.1,826.7 356.1,824.2 358.1,821.8 C360.1,819.3 362.0,816.8 364.0,814.3 C366.0,811.8 368.0,809.2 370.0,806.6 C372.0,804.0 374.0,801.4 376.0,798.7 C378.0,796.1 380.0,793.4 382.0,790.7 C384.0,788.0 385.9,785.2 387.9,782.4 C389.9,779.6 391.9,776.8 393.9,774.0 C395.9,771.1 397.9,768.3 399.9,765.4 C401.9,762.5 403.9,759.5 405.9,756.6 C407.9,753.6 409.8,750.6 411.8,747.6 C413.8,744.5 415.8,741.5 417.8,738.4 C419.8,735.3 421.8,732.2 423.8,729.0 C425.8,725.8 427.8,722.6 429.8,719.4 C431.7,716.2 433.7,712.9 435.7,709.6 C437.7,706.3 439.7,703.0 441.7,699.6 C443.7,696.2 445.7,692.8 447.7,689.4 C449.7,685.9 451.7,682.4 453.7,678.9 C455.6,675.3 457.6,671.7 459.6,668.1 C461.6,664.5 463.6,660.8 465.6,657.1 C467.6,653.4 469.6,649.6 471.6,645.8 C473.6,642.0 475.6,638.1 477.6,634.2 C479.5,630.2 481.5,626.2 483.5,622.2 C485.5,618.2 488.5,612.0 489.5,609.9" stroke-width="0.75" stroke="#444"/>
</g>
</svg>
</body></html>
